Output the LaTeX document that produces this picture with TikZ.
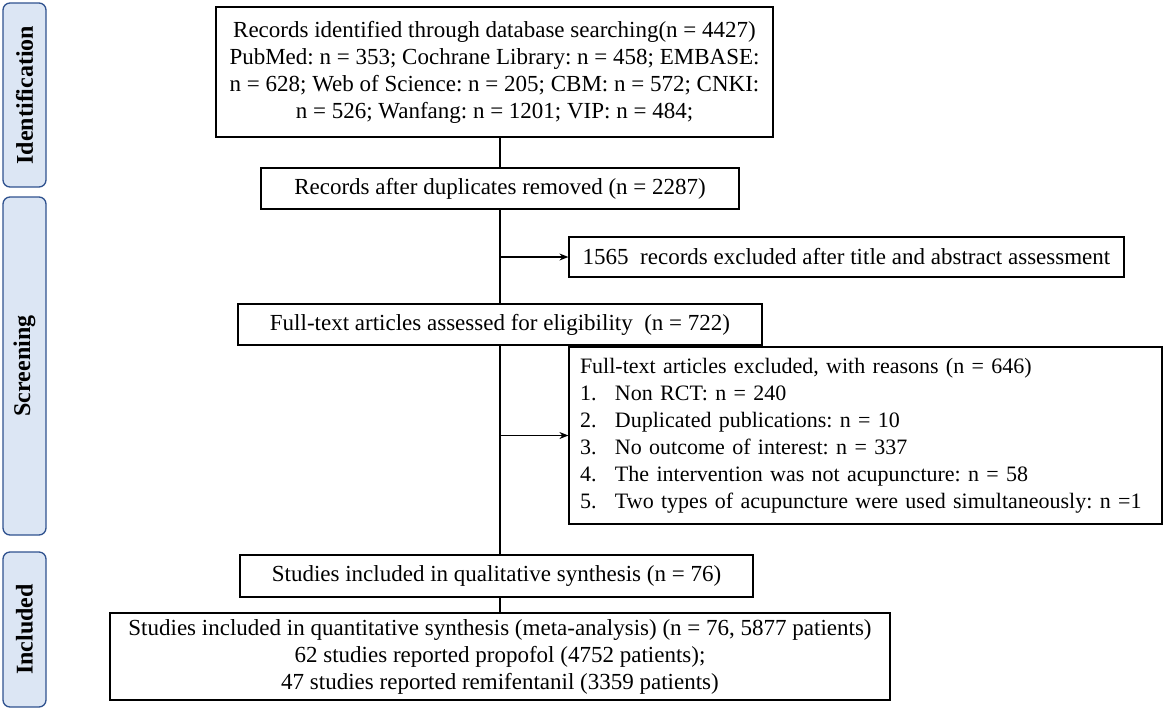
\documentclass[tikz,border=0pt]{standalone}
\usepackage{fontspec}
\setmainfont{Liberation Serif}
\usetikzlibrary{arrows.meta}
\definecolor{stagefill}{HTML}{DCE6F4}
\definecolor{stageline}{HTML}{2F528F}
\frenchspacing
\begin{document}
\begin{tikzpicture}[x=1pt,y=-1pt]
\tikzstyle{every node}+=[inner sep=0pt, font=\fontsize{23}{27}\selectfont]
\tikzstyle{box}=[draw=black, line width=1.2pt, minimum height=41pt, align=center]
\tikzstyle{stage}=[draw=stageline, fill=stagefill, rounded corners=7pt, line width=1.3pt, rotate=90, minimum height=43pt, font=\fontsize{24}{28}\selectfont\bfseries]
\tikzstyle{flow}=[black, line width=1.2pt]
\useasboundingbox (0,0) rectangle (1170,710);
% stages
\node [stage, minimum width=184pt] (ident) at (24.5,95) {Identification};
\node [stage, minimum width=338pt] (screen) at (24.5,366) {Screening};
\node [stage, minimum width=155pt] (incl) at (24.5,629.5) {Included};
% boxes
\node [box, minimum width=557pt, minimum height=130pt] (rec) at (494.5,72)
  {Records identified through database searching(n = 4427)\\
   PubMed: n = 353;\ Cochrane Library: n = 458;\ EMBASE:\\
   n = 628;\ Web of Science: n = 205;\ CBM:\ n = 572;\ CNKI:\\
   n = 526;\ Wanfang: n = 1201;\ VIP: n = 484;};
\node [box, minimum width=478pt] (dup) at (500,188.5) {Records after duplicates removed (n = 2287)};
\node [box, minimum width=555pt, minimum height=40pt] (exa) at (846.5,257) {1565\ \ records excluded after title and abstract assessment};
\node [box, minimum width=524pt] (full) at (500,324.5) {Full-text articles assessed for eligibility\ \ (n = 722)};
\node [box, minimum width=593pt, minimum height=177pt, align=left, text width=571pt, inner xsep=11pt, font=\fontsize{22}{27}\selectfont] (exb) at (865.5,435.5)
  {Full-text articles excluded, with reasons (n = 646)\\
   \makebox[35pt][l]{1.}Non RCT: n = 240\\
   \makebox[35pt][l]{2.}Duplicated publications: n = 10\\
   \makebox[35pt][l]{3.}No outcome of interest: n = 337\\
   \makebox[35pt][l]{4.}The intervention was not acupuncture: n = 58\\
   \makebox[35pt][l]{5.}Two types of acupuncture were used simultaneously: n =1};
\node [box, minimum width=513pt, minimum height=42pt] (qual) at (496.5,576) {Studies included in qualitative synthesis (n = 76)};
\node [box, minimum width=780pt, minimum height=87pt] (quant) at (500,656.5)
  {Studies included in quantitative synthesis (meta-analysis) (n = 76, 5877 patients)\\
   62 studies reported propofol (4752 patients);\\
   47 studies reported remifentanil (3359 patients)};
% connectors
\draw [flow] (rec.south -| dup.north) -- (dup.north);
\draw [flow] (dup.south) -- (full.north);
\draw [flow] (full.south) -- (qual.north -| full.south);
\draw [flow] (qual.south -| full.south) -- (quant.north);
\draw [flow, -{Stealth[length=9pt,width=7pt]}] (exa.west -| dup.south) -- (exa.west);
\draw [flow, -{Stealth[length=9pt,width=7pt]}] (exb.west -| full.south) -- (exb.west);
\end{tikzpicture}
\end{document}
